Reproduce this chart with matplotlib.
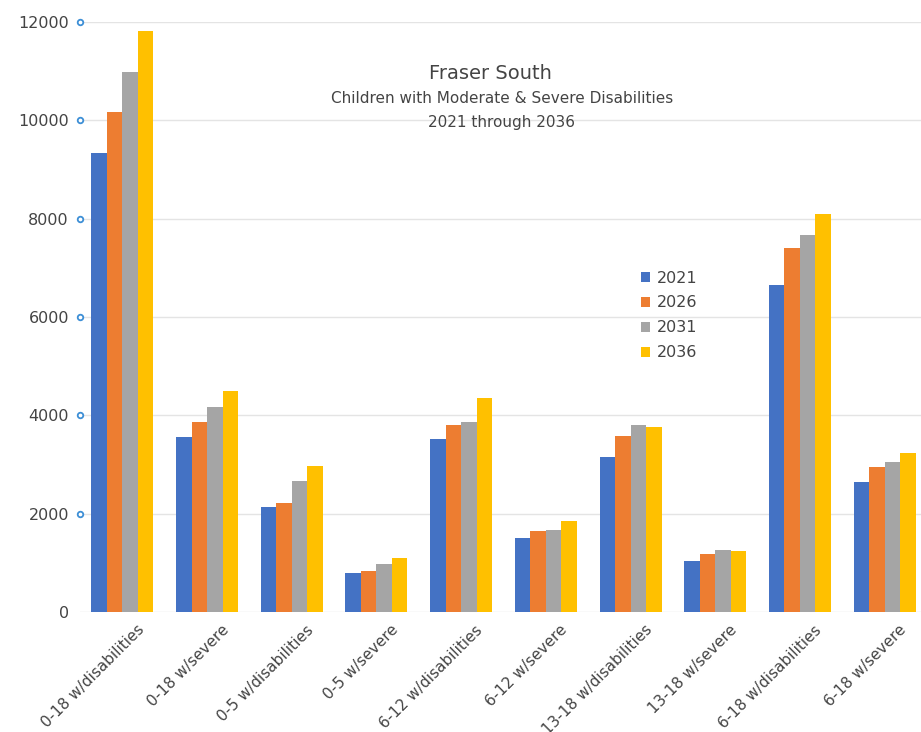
import matplotlib.pyplot as plt
import matplotlib.transforms as mtransforms
import numpy as np

categories = ["0-18 w/disabilities", "0-18 w/severe", "0-5 w/disabilities", "0-5 w/severe",
              "6-12 w/disabilities", "6-12 w/severe", "13-18 w/disabilities", "13-18 w/severe",
              "6-18 w/disabilities", "6-18 w/severe"]
years = ["2021", "2026", "2031", "2036"]
v2021 = [9340, 3550, 2135, 790, 3515, 1500, 3155, 1045, 6660, 2650]
v2026 = [10165, 3855, 2215, 835, 3805, 1640, 3575, 1180, 7400, 2955]
v2031 = [10975, 4170, 2660, 985, 3855, 1660, 3810, 1260, 7660, 3050]
v2036 = [11825, 4490, 2975, 1100, 4355, 1855, 3755, 1235, 8105, 3230]
yticks = [0, 2000, 4000, 6000, 8000, 10000, 12000]
colors = ["#4472C4", "#ED7D31", "#A5A5A5", "#FFC000"]

fig = plt.figure(figsize=(9.21, 7.32), dpi=100)
ax = fig.add_axes([0.0869, 0.1639, 0.9131, 0.806])

x = np.arange(len(categories))
w = 0.183
for i, (vals, c, yr) in enumerate(zip([v2021, v2026, v2031, v2036], colors, years)):
    ax.bar(x + (i - 1.5) * w, vals, width=w, color=c, label=yr, zorder=3)

ax.set_xlim(-0.5, 9.43)
ax.set_ylim(0, 12000)
ax.set_yticks(yticks)
ax.grid(axis="y", color="#e4e4e4", linewidth=1, zorder=0)
for s in ax.spines.values():
    s.set_visible(False)
ax.tick_params(axis="y", labelsize=11.5, labelcolor="#444444", pad=8, length=0)

# little blue circles at the left end of each gridline
ytrans = mtransforms.blended_transform_factory(ax.transAxes, ax.transData)
ax.plot([0] * (len(yticks) - 1), yticks[1:], "o", transform=ytrans, clip_on=False,
        markersize=4, markerfacecolor="white", markeredgecolor="#3d8fd6",
        markeredgewidth=1.3, zorder=5)

ax.set_xticks(x)
ax.set_xticklabels(categories, rotation=45, ha="right", va="top", rotation_mode="anchor",
                   fontsize=11, color="#444444")
ax.tick_params(axis="x", length=0, pad=6)
shift = mtransforms.ScaledTranslation(14 / 100, -2 / 100, fig.dpi_scale_trans)
for lbl in ax.get_xticklabels():
    lbl.set_transform(lbl.get_transform() + shift)

fig.text(0.532, 0.9, "Fraser South", ha="center", va="center", fontsize=14, color="#444444")
fig.text(0.545, 0.865, "Children with Moderate & Severe Disabilities", ha="center", va="center",
         fontsize=11, color="#444444")
fig.text(0.545, 0.832, "2021 through 2036", ha="center", va="center", fontsize=11, color="#444444")

ax.legend(loc="upper left", bbox_to_anchor=(0.68, 0.65), bbox_transform=fig.transFigure,
          frameon=False, fontsize=11.5, handlelength=0.6, handleheight=0.6, handletextpad=0.4,
          labelspacing=0.62, labelcolor="#444444")

fig.savefig("out.png", dpi=100)
